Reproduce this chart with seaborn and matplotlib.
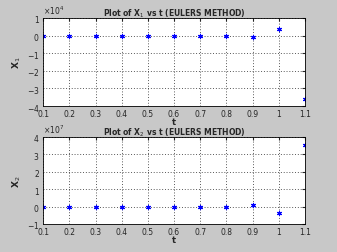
import numpy as np
import pandas as pd
import matplotlib
matplotlib.use("Agg")
import matplotlib.pyplot as plt
import seaborn as sns
from matplotlib.ticker import ScalarFormatter

t = [0.1, 0.2, 0.3, 0.4, 0.5, 0.6, 0.7, 0.8, 0.9, 1.0, 1.1]
x1 = [0, 0, 0, 0, 0, 0, 0, 0, -0.06e4, 0.37e4, -3.6e4]
x2 = [0, 0, 0, 0, 0, 0, 0, 0, 0.08e7, -0.38e7, 3.53e7]
titles = ["Plot of X$_1$ vs t (EULERS METHOD)", "Plot of X$_2$ vs t (EULERS METHOD)"]
ylabels = ["X$_1$", "X$_2$"]
ylims = [(-4e4, 1e4), (-1e7, 4e7)]
xticks = [0.1, 0.2, 0.3, 0.4, 0.5, 0.6, 0.7, 0.8, 0.9, 1.0, 1.1]
xticklabels = ["0.1", "0.2", "0.3", "0.4", "0.5", "0.6", "0.7", "0.8", "0.9", "1", "1.1"]

sns.set_style("white")
plt.rcParams["font.family"] = ["DejaVu Sans"]

fig = plt.figure(figsize=(3.37, 2.53), dpi=100)
fig.patch.set_facecolor("#c8c8c8")
ax1 = fig.add_axes([0.128, 0.577, 0.777, 0.348])
ax2 = fig.add_axes([0.128, 0.111, 0.777, 0.344])

for ax, y, title, yl, lim in zip([ax1, ax2], [x1, x2], titles, ylabels, ylims):
    df = pd.DataFrame({"t": t, "v": y})
    sns.scatterplot(data=df, x="t", y="v", ax=ax, marker=(6, 2, 0), color="#0000ff",
                    s=10, linewidth=0.8, edgecolor="#0000ff")
    ax.set_facecolor("white")
    ax.set_xlim(0.1, 1.1)
    ax.set_ylim(*lim)
    ax.set_xticks(xticks)
    ax.set_xticklabels(xticklabels)
    fmt = ScalarFormatter(useMathText=True)
    fmt.set_powerlimits((0, 0))
    ax.yaxis.set_major_formatter(fmt)
    ax.yaxis.get_offset_text().set_fontsize(5.5)
    ax.tick_params(labelsize=5.5, length=2, direction="in", top=True, right=True)
    ax.tick_params(axis="x", pad=2.5)
    ax.tick_params(axis="y", pad=2.5)
    ax.grid(True, color="#202020", linestyle=(0, (1.2, 2.5)), linewidth=0.55)
    for s in ax.spines.values():
        s.set_color("black")
        s.set_linewidth(0.6)
    ax.set_title(title, fontsize=5.5, fontweight="bold", pad=2)
    ax.set_ylabel(yl, fontsize=6.5, fontweight="bold", labelpad=3)
    ax.set_xlabel("t", fontsize=6, fontweight="bold", labelpad=-1)

fig.savefig("out.png", dpi=100, facecolor=fig.get_facecolor())
